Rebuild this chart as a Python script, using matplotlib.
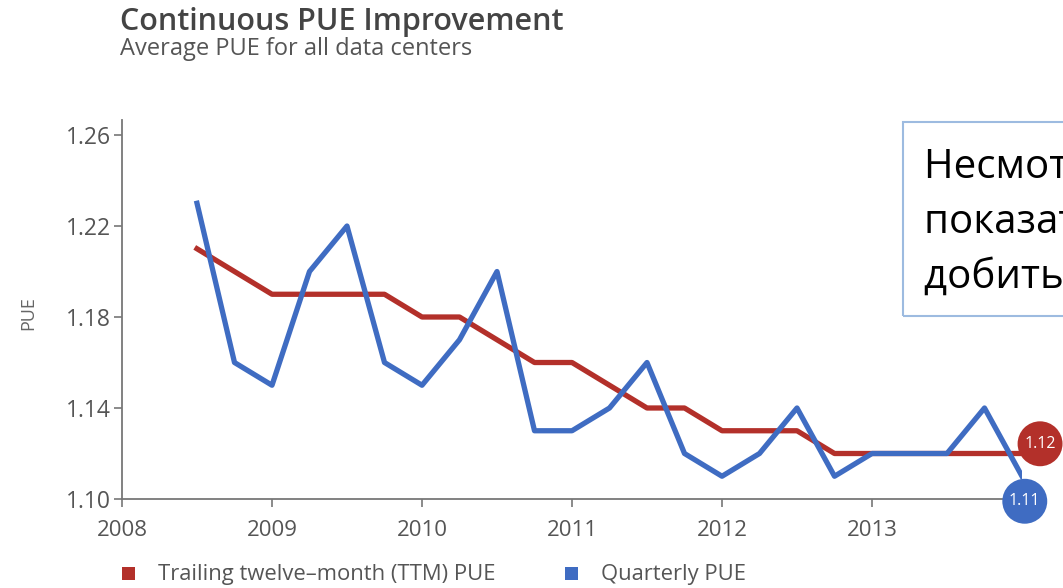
import matplotlib
matplotlib.use("Agg")
import matplotlib.pyplot as plt
from matplotlib.patches import Rectangle

plt.rcParams['font.family'] = ['Open Sans', 'DejaVu Sans']

# quarterly points, mid-2008 .. end of 2013
quarters = [2008.5, 2008.75, 2009.0, 2009.25, 2009.5, 2009.75,
            2010.0, 2010.25, 2010.5, 2010.75, 2011.0, 2011.25,
            2011.5, 2011.75, 2012.0, 2012.25, 2012.5, 2012.75,
            2013.0, 2013.25, 2013.5, 2013.75, 2014.0]
ttm_pue = [1.21, 1.20, 1.19, 1.19, 1.19, 1.19,
           1.18, 1.18, 1.17, 1.16, 1.16, 1.15,
           1.14, 1.14, 1.13, 1.13, 1.13, 1.12,
           1.12, 1.12, 1.12, 1.12, 1.12]
quarterly_pue = [1.23, 1.16, 1.15, 1.20, 1.22, 1.16,
                 1.15, 1.17, 1.20, 1.13, 1.13, 1.14,
                 1.16, 1.12, 1.11, 1.12, 1.14, 1.11,
                 1.12, 1.12, 1.12, 1.14, 1.11]
series_names = ['Trailing twelve\u2013month (TTM) PUE', 'Quarterly PUE']
year_ticks = [2008, 2009, 2010, 2011, 2012, 2013]
pue_ticks = [1.10, 1.14, 1.18, 1.22, 1.26]
note_lines = ['Несмотря на хорошие', 'показатели, трудно', 'добиться большего']

RED = '#b3302a'
BLUE = '#3f6cc2'
GREY = '#555555'
W, H = 1063, 588

fig = plt.figure(figsize=(W / 100, H / 100), dpi=100)
ax = fig.add_axes([122 / W, 89 / H, 900 / W, 379 / H])

ax.plot(quarters, ttm_pue, color=RED, lw=3.8)
ax.plot(quarters, quarterly_pue, color=BLUE, lw=3.8)

# end-of-series value bubbles
ax.annotate(f"{ttm_pue[-1]:.2f}", xy=(quarters[-1], ttm_pue[-1]),
            xytext=(13, 7), textcoords='offset points',
            ha='center', va='center', color='white', fontsize=11.5,
            bbox=dict(boxstyle='circle,pad=0.42', fc=RED, ec='none'),
            annotation_clip=False, zorder=5)
ax.annotate(f"{quarterly_pue[-1]:.2f}", xy=(quarters[-1], quarterly_pue[-1]),
            xytext=(2, -18), textcoords='offset points',
            ha='center', va='center', color='white', fontsize=11.5,
            bbox=dict(boxstyle='circle,pad=0.42', fc=BLUE, ec='none'),
            annotation_clip=False, zorder=6)

ax.set_xlim(2008, 2014)
ax.set_ylim(1.10, 1.2666)
ax.set_xticks(year_ticks)
ax.set_yticks(pue_ticks)
ax.set_yticklabels([f"{v:.2f}" for v in pue_ticks])
ax.tick_params(colors='#777777', labelcolor=GREY, labelsize=16,
               length=6, width=1.2, pad=2)
ax.tick_params(axis='y', labelsize=16.5)
ax.tick_params(axis='x', pad=9)
for side in ('top', 'right'):
    ax.spines[side].set_visible(False)
for side in ('left', 'bottom'):
    ax.spines[side].set_color('#777777')
    ax.spines[side].set_linewidth(1.3)
ax.set_ylabel('PUE', color='#666666', fontsize=13)
ax.yaxis.set_label_coords(-0.094, 0.49)

fig.text(120 / W, 1 - 30 / H, 'Continuous PUE Improvement',
         fontsize=22, fontweight='semibold', color='#444444')
fig.text(120 / W, 1 - 55 / H, 'Average PUE for all data centers',
         fontsize=17, color='#555555')

# legend: colour squares with labels
for x0, colour, name in zip((122, 565), (RED, BLUE), series_names):
    fig.patches.append(Rectangle((x0 / W, 1 - 580 / H), 13 / W, 13 / H,
                                 transform=fig.transFigure, fc=colour, ec='none'))
    fig.text((x0 + 36) / W, 1 - 580 / H, name, fontsize=15.8, color=GREY,
             va='baseline')

# callout box running off the right edge
fig.patches.append(Rectangle((903 / W, 1 - 316 / H), 200 / W, 194 / H,
                             transform=fig.transFigure, fill=False,
                             ec='#9dbbe0', lw=1.5))
for i, line in enumerate(note_lines):
    fig.text(924 / W, 1 - (178 + 55 * i) / H, line, fontsize=29,
             color='black', va='baseline')

fig.savefig('out.png', dpi=100)
